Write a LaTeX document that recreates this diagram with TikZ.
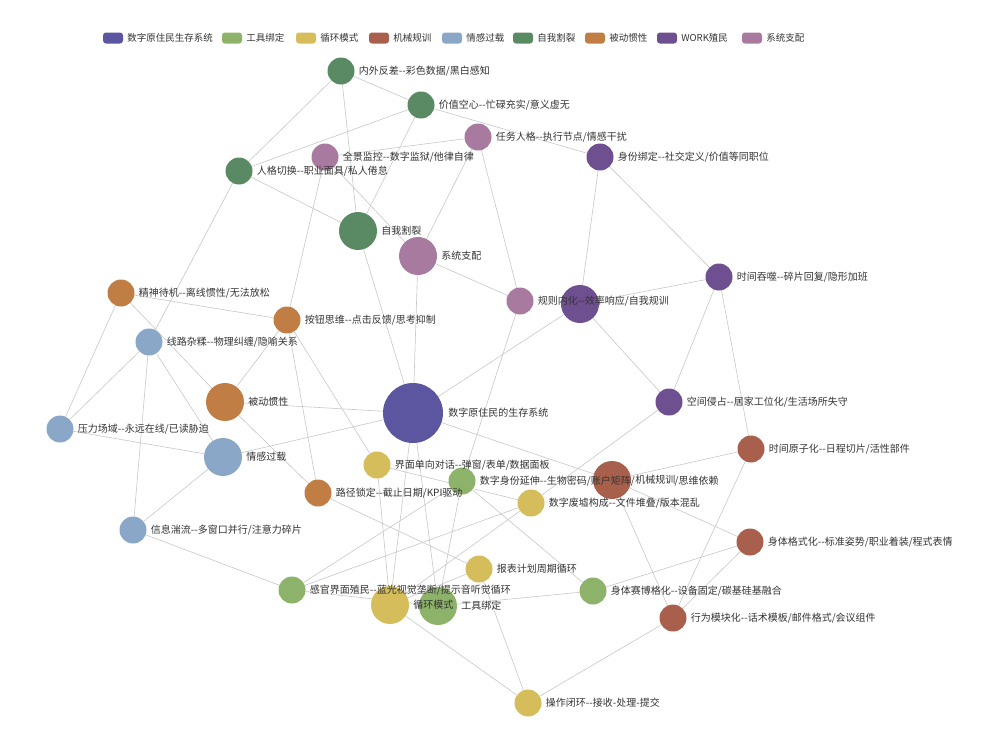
\documentclass[tikz,border=0pt]{standalone}
\usepackage{fontspec}
\newfontfamily\cjk{Noto Sans CJK SC}
\usetikzlibrary{positioning,backgrounds}

\definecolor{cRoot}{HTML}{5C56A0}
\definecolor{cTool}{HTML}{8DB26A}
\definecolor{cLoop}{HTML}{D4BD5A}
\definecolor{cMech}{HTML}{A8604C}
\definecolor{cEmo}{HTML}{8AA7C8}
\definecolor{cSplit}{HTML}{5A8A64}
\definecolor{cPass}{HTML}{C07E45}
\definecolor{cWork}{HTML}{6E4F8F}
\definecolor{cRule}{HTML}{A97AA0}
\definecolor{cText}{HTML}{333333}

\begin{document}
\begin{tikzpicture}[x=1pt, y=-1pt, every node/.style={font=\cjk\fontsize{10}{12}\selectfont}]

\tikzstyle{big} = [circle, inner sep=0pt, minimum size=60pt]
\tikzstyle{cat} = [circle, inner sep=0pt, minimum size=38pt]
\tikzstyle{leaf} = [circle, inner sep=0pt, minimum size=27pt]
\tikzstyle{tag} = [inner sep=0pt, text=cText]
\tikzstyle{key} = [rounded corners=3pt, minimum width=20pt, minimum height=11pt, inner sep=0pt]
\tikzstyle{keytext} = [inner sep=0pt, text=cText, font=\cjk\fontsize{9.5}{11}\selectfont]
\tikzstyle{line} = [draw, black!22, line width=0.6pt]

    \useasboundingbox (0,0) rectangle (1002,731);

    % Legend
    \node [key, fill=cRoot] (k1) at (113,38) {};
    \node [keytext, right=4pt of k1] (k1t) {数字原住民生存系统};
    \node [key, fill=cTool] (k2) at (232,38) {};
    \node [keytext, right=4pt of k2] (k2t) {工具绑定};
    \node [key, fill=cLoop] (k3) at (306,38) {};
    \node [keytext, right=4pt of k3] (k3t) {循环模式};
    \node [key, fill=cMech] (k4) at (379,38) {};
    \node [keytext, right=4pt of k4] (k4t) {机械规训};
    \node [key, fill=cEmo] (k5) at (452,38) {};
    \node [keytext, right=4pt of k5] (k5t) {情感过载};
    \node [key, fill=cSplit] (k6) at (523,38) {};
    \node [keytext, right=4pt of k6] (k6t) {自我割裂};
    \node [key, fill=cPass] (k7) at (595,38) {};
    \node [keytext, right=4pt of k7] (k7t) {被动惯性};
    \node [key, fill=cWork] (k8) at (667,38) {};
    \node [keytext, right=4pt of k8] (k8t) {WORK殖民};
    \node [key, fill=cRule] (k9) at (752,38) {};
    \node [keytext, right=4pt of k9] (k9t) {系统支配};

    % Place nodes
    \node [big, fill=cRoot] (root) at (413,413) {};
    \node [cat, fill=cSplit] (zwgl) at (358,231) {};
    \node [cat, fill=cRule] (xtzp) at (418,256) {};
    \node [cat, fill=cWork] (work) at (580,304) {};
    \node [cat, fill=cPass] (bdgx) at (225,402) {};
    \node [cat, fill=cEmo] (qggz) at (223,457) {};
    \node [cat, fill=cMech] (jxgx) at (612,480) {};
    \node [cat, fill=cLoop] (xhms) at (390,605) {};
    \node [cat, fill=cTool] (gjbd) at (438,606) {};

    \node [leaf, fill=cSplit] (nwfc) at (341,71) {};
    \node [leaf, fill=cSplit] (jzkx) at (421,105) {};
    \node [leaf, fill=cSplit] (rgqh) at (239,171) {};
    \node [leaf, fill=cRule] (rwrg) at (478,137) {};
    \node [leaf, fill=cRule] (qjjk) at (325,157) {};
    \node [leaf, fill=cRule] (gznh) at (520,301) {};
    \node [leaf, fill=cWork] (sfbd) at (600,157) {};
    \node [leaf, fill=cWork] (sjtz) at (719,277) {};
    \node [leaf, fill=cWork] (kjqz) at (669,402) {};
    \node [leaf, fill=cPass] (jsdj) at (121,293) {};
    \node [leaf, fill=cPass] (anniu) at (287,320) {};
    \node [leaf, fill=cPass] (ljsd) at (318,493) {};
    \node [leaf, fill=cEmo] (xlzr) at (149,342) {};
    \node [leaf, fill=cEmo] (ylcy) at (60,429) {};
    \node [leaf, fill=cEmo] (xxtl) at (133,530) {};
    \node [leaf, fill=cMech] (sjyz) at (751,449) {};
    \node [leaf, fill=cMech] (stgs) at (750,542) {};
    \node [leaf, fill=cMech] (xwmk) at (673,618) {};
    \node [leaf, fill=cLoop] (jmdx) at (377,465) {};
    \node [leaf, fill=cLoop] (szfx) at (531,503) {};
    \node [leaf, fill=cLoop] (bbjh) at (479,569) {};
    \node [leaf, fill=cLoop] (czbh) at (528,703) {};
    \node [leaf, fill=cTool] (szsf) at (462,481) {};
    \node [leaf, fill=cTool] (ggjm) at (292,590) {};
    \node [leaf, fill=cTool] (stsb) at (593,591) {};

    % Labels
    \node [tag, right=5pt of root] (root-t) {数字原住民的生存系统};
    \node [tag, right=4pt of zwgl] (zwgl-t) {自我割裂};
    \node [tag, right=4pt of xtzp] (xtzp-t) {系统支配};
    \node [tag, right=4pt of bdgx] (bdgx-t) {被动惯性};
    \node [tag, right=4pt of qggz] (qggz-t) {情感过载};
    \node [tag, right=4pt of xhms] (xhms-t) {循环模式};
    \node [tag, right=4pt of gjbd] (gjbd-t) {工具绑定};
    \node [tag, right=4pt of nwfc] (nwfc-t) {内外反差--彩色数据/黑白感知};
    \node [tag, right=4pt of jzkx] (jzkx-t) {价值空心--忙碌充实/意义虚无};
    \node [tag, right=4pt of rgqh] (rgqh-t) {人格切换--职业面具/私人倦怠};
    \node [tag, right=4pt of rwrg] (rwrg-t) {任务人格--执行节点/情感干扰};
    \node [tag, right=4pt of qjjk] (qjjk-t) {全景监控--数字监狱/他律自律};
    \node [tag, right=4pt of sfbd] (sfbd-t) {身份绑定--社交定义/价值等同职位};
    \node [tag, right=4pt of sjtz] (sjtz-t) {时间吞噬--碎片回复/隐形加班};
    \node [tag, right=4pt of kjqz] (kjqz-t) {空间侵占--居家工位化/生活场所失守};
    \node [tag, right=4pt of jsdj] (jsdj-t) {精神待机--离线惯性/无法放松};
    \node [tag, right=4pt of anniu] (anniu-t) {按钮思维--点击反馈/思考抑制};
    \node [tag, right=4pt of ljsd] (ljsd-t) {路径锁定--截止日期/KPI驱动};
    \node [tag, right=4pt of xlzr] (xlzr-t) {线路杂糅--物理纠缠/隐喻关系};
    \node [tag, right=4pt of ylcy] (ylcy-t) {压力场域--永远在线/已读胁迫};
    \node [tag, right=4pt of xxtl] (xxtl-t) {信息湍流--多窗口并行/注意力碎片};
    \node [tag, right=4pt of sjyz] (sjyz-t) {时间原子化--日程切片/活性部件};
    \node [tag, right=4pt of stgs] (stgs-t) {身体格式化--标准姿势/职业着装/程式表情};
    \node [tag, right=4pt of xwmk] (xwmk-t) {行为模块化--话术模板/邮件格式/会议组件};
    \node [tag, right=4pt of jmdx] (jmdx-t) {界面单向对话--弹窗/表单/数据面板};
    \node [tag, right=4pt of szfx] (szfx-t) {数字废墟构成--文件堆叠/版本混乱};
    \node [tag, right=4pt of bbjh] (bbjh-t) {报表计划周期循环};
    \node [tag, right=4pt of czbh] (czbh-t) {操作闭环--接收-处理-提交};
    \node [tag, right=4pt of szsf] (szsf-t) {数字身份延伸--生物密码/账户矩阵/机械规训/思维依赖};
    \node [tag, right=4pt of ggjm] (ggjm-t) {感官界面殖民--蓝光视觉垄断/提示音听觉循环};
    \node [tag, right=4pt of stsb] (stsb-t) {身体赛博格化--设备固定/碳基硅基融合};
    \node [tag, right=4pt of gznh] (gznh-t) {规则内化--效率响应/自我规训};
    \node [tag, fill=white, right=4pt of jxgx] (jxgx-t) {机械规训};

    % Draw edges
    \begin{scope}[on background layer]
    \path [line] (root) -- (zwgl);
    \path [line] (root) -- (xtzp);
    \path [line] (root) -- (work);
    \path [line] (root) -- (bdgx);
    \path [line] (root) -- (qggz);
    \path [line] (root) -- (jxgx);
    \path [line] (root) -- (xhms);
    \path [line] (root) -- (gjbd);
    \path [line] (zwgl) -- (nwfc);
    \path [line] (zwgl) -- (jzkx);
    \path [line] (zwgl) -- (rgqh);
    \path [line] (xtzp) -- (rwrg);
    \path [line] (xtzp) -- (qjjk);
    \path [line] (xtzp) -- (gznh);
    \path [line] (work) -- (sfbd);
    \path [line] (work) -- (sjtz);
    \path [line] (work) -- (kjqz);
    \path [line] (bdgx) -- (jsdj);
    \path [line] (bdgx) -- (anniu);
    \path [line] (bdgx) -- (ljsd);
    \path [line] (qggz) -- (xlzr);
    \path [line] (qggz) -- (ylcy);
    \path [line] (qggz) -- (xxtl);
    \path [line] (jxgx) -- (sjyz);
    \path [line] (jxgx) -- (stgs);
    \path [line] (jxgx) -- (xwmk);
    \path [line] (xhms) -- (jmdx);
    \path [line] (xhms) -- (bbjh);
    \path [line] (xhms) -- (czbh);
    \path [line] (xhms) -- (szfx);
    \path [line] (gjbd) -- (szsf);
    \path [line] (gjbd) -- (ggjm);
    \path [line] (gjbd) -- (stsb);
    \path [line] (nwfc) -- (rgqh);
    \path [line] (nwfc) -- (jzkx);
    \path [line] (jzkx) -- (rgqh);
    \path [line] (jzkx) -- (sfbd);
    \path [line] (rwrg) -- (qjjk);
    \path [line] (rwrg) -- (gznh);
    \path [line] (qjjk) -- (anniu);
    \path [line] (rgqh) -- (xlzr);
    \path [line] (sfbd) -- (sjtz);
    \path [line] (sjtz) -- (kjqz);
    \path [line] (sjtz) -- (sjyz);
    \path [line] (kjqz) -- (szfx);
    \path [line] (gznh) -- (szsf);
    \path [line] (jsdj) -- (anniu);
    \path [line] (jsdj) -- (ylcy);
    \path [line] (xlzr) -- (ylcy);
    \path [line] (xlzr) -- (xxtl);
    \path [line] (anniu) -- (ljsd);
    \path [line] (anniu) -- (jmdx);
    \path [line] (ljsd) -- (bbjh);
    \path [line] (jmdx) -- (szfx);
    \path [line] (xxtl) -- (ggjm);
    \path [line] (ggjm) -- (szsf);
    \path [line] (ggjm) -- (szfx);
    \path [line] (szsf) -- (stsb);
    \path [line] (stsb) -- (stgs);
    \path [line] (stgs) -- (xwmk);
    \path [line] (sjyz) -- (xwmk);
    \path [line] (xwmk) -- (czbh);
    \path [line] (czbh) -- (bbjh);
    \end{scope}
\end{tikzpicture}
\end{document}
